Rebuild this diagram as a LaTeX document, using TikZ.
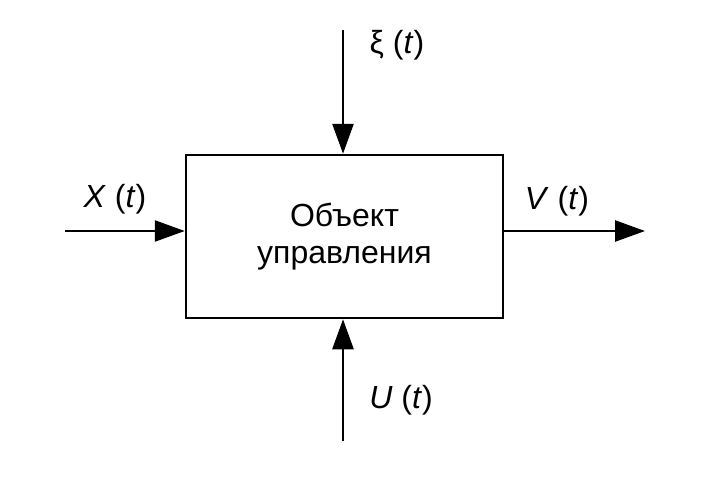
\documentclass[tikz,border=0pt]{standalone}
\usepackage{fontspec}
\setmainfont{Liberation Sans}
\usetikzlibrary{arrows.meta}
\begin{document}
\begin{tikzpicture}[x=1pt,y=-1pt,
  sig/.style={line width=2.5pt,-{Triangle[length=30pt,width=21pt]}},
  lbl/.style={font=\fontsize{32}{36}\selectfont,inner sep=0pt}]
\useasboundingbox (0,0) rectangle (704,479);
\node[draw,line width=2.5pt,minimum width=317pt,minimum height=163pt,inner sep=0pt,
  align=center,font=\fontsize{32}{37}\selectfont] (obj) at (344.5,236.5) {Объект\\управления};
\coordinate (xi0) at (343,30);
\coordinate (u0) at (343,441);
\coordinate (x0) at (65,231);
\coordinate (v1) at (645,231);
\draw[sig] (xi0) -- (obj.north -| xi0);
\draw[sig] (u0) -- (obj.south -| u0);
\draw[sig] (x0) -- (obj.west |- x0);
\draw[sig] (obj.east |- v1) -- (v1);
\node[lbl] (lxi) at (397,45) {ξ (\textit{t})};
\node[lbl] (lx) at (115,199) {\textit{X} (\textit{t})};
\node[lbl] (lv) at (557,201) {\textit{V} (\textit{t})};
\node[lbl] (lu) at (401,400) {\textit{U} (\textit{t})};
\end{tikzpicture}
\end{document}
